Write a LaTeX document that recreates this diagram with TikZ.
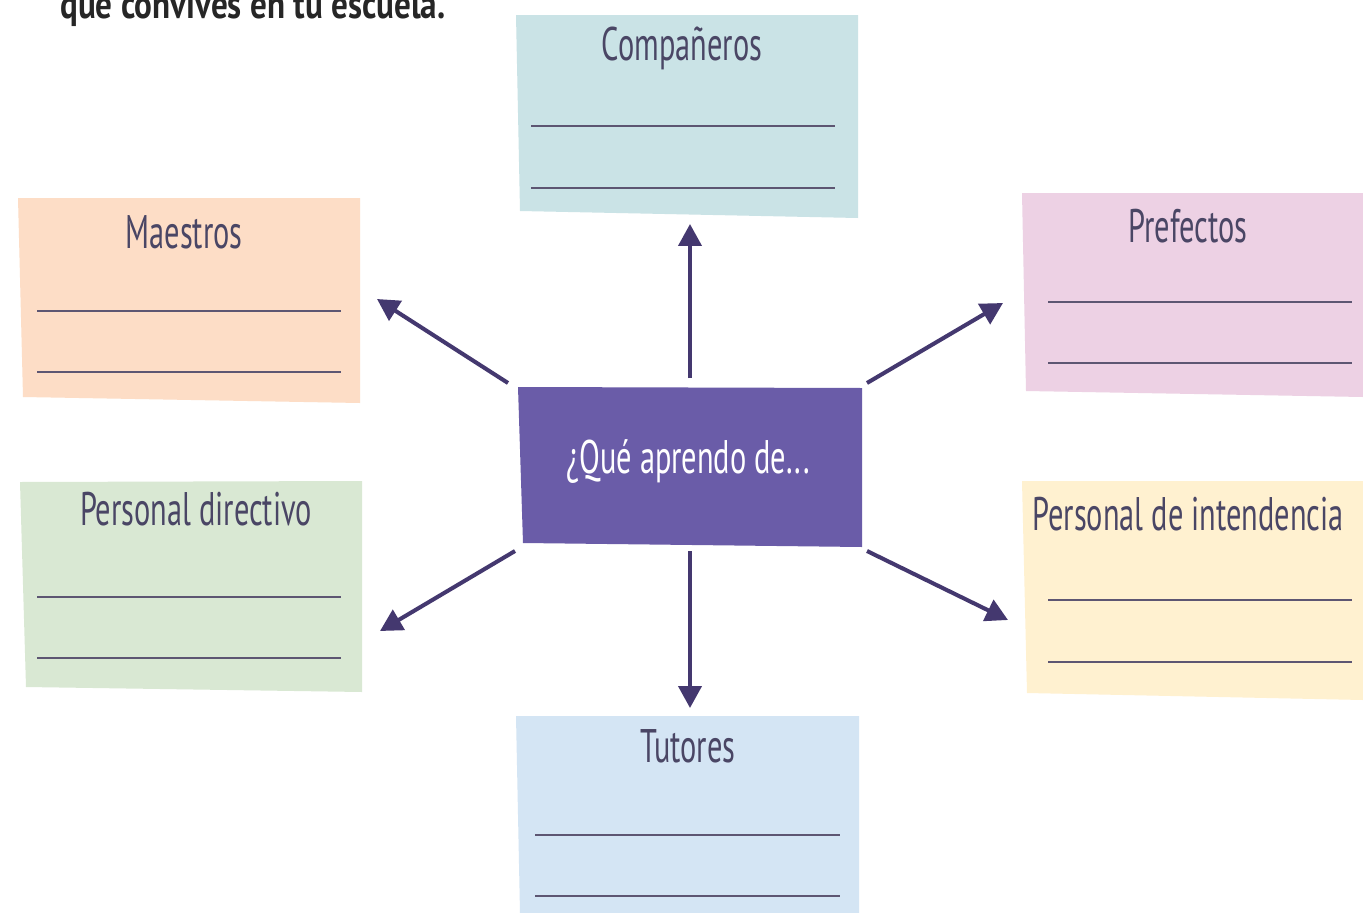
\documentclass[tikz,border=0pt]{standalone}
\usepackage{fontspec}
\setmainfont[FakeStretch=0.645]{PT Sans}
\newfontfamily\titlefont[FakeStretch=0.82]{PT Sans}
\usetikzlibrary{arrows.meta}
\definecolor{cteal}{HTML}{CAE3E6}
\definecolor{cpeach}{HTML}{FDDDC6}
\definecolor{cpink}{HTML}{EDD1E4}
\definecolor{cgreen}{HTML}{D9E8D3}
\definecolor{cyellow}{HTML}{FFF1D0}
\definecolor{cblue}{HTML}{D4E5F4}
\definecolor{cpurple}{HTML}{6A5CA8}
\definecolor{carrow}{HTML}{44386F}
\definecolor{ctext}{HTML}{4A4665}
\definecolor{cline}{HTML}{5D5672}
\tikzset{
  lbl/.style={anchor=base, text=ctext, inner sep=0pt, font=\fontsize{26.8}{30}\selectfont},
  sep/.style={draw=cline, line width=1.5pt},
  arr/.style={draw=carrow, line width=2.3pt, -{Triangle[length=0.44cm, width=0.46cm]}}
}
\begin{document}
\begin{tikzpicture}[x=0.02cm,y=-0.02cm]
\useasboundingbox (0,0) rectangle (1363,913);
\fill[white] (0,0) rectangle (1363,913);
% top text
\node[anchor=base west, inner sep=0pt, text=black!85, font=\titlefont\fontsize{23}{26}\selectfont\bfseries] (title) at (60,18) {que convives en tu escuela.};
% boxes
\fill[cteal]   (516,15) -- (858,15) -- (858,218) -- (520,211) -- cycle;
\fill[cpeach]  (18,198) -- (360,198) -- (360,403) -- (23,397) -- cycle;
\fill[cpink]   (1022,193) -- (1363,193) -- (1363,397) -- (1026,391) -- cycle;
\fill[cgreen]  (20,482) -- (362,481) -- (362,692) -- (26,687) -- cycle;
\fill[cyellow] (1022,481) -- (1363,481) -- (1363,700) -- (1027,693) -- cycle;
\fill[cblue]   (516,716) -- (859,716) -- (859,913) -- (520,913) -- cycle;
\fill[cpurple] (518,387) -- (862,388) -- (862,547) -- (523,543) -- cycle;
% labels
\node[lbl] (comp) at (682,60) {Compañeros};
\node[lbl] (maes) at (184,248) {Maestros};
\node[lbl] (pref) at (1188,242) {Prefectos};
\node[lbl] (dir)  at (196,525) {Personal directivo};
\node[lbl] (int)  at (1188,530) {Personal de intendencia};
\node[lbl] (tut)  at (688,762) {Tutores};
\node[lbl, text=white] (center) at (688,473) {¿Qué aprendo de...};
% writing lines
\draw[sep] (531,126) -- (835,126);
\draw[sep] (531,188) -- (835,188);
\draw[sep] (37,311) -- (341,311);
\draw[sep] (37,372) -- (341,372);
\draw[sep] (1048,302) -- (1352,302);
\draw[sep] (1048,363) -- (1352,363);
\draw[sep] (37,597) -- (341,597);
\draw[sep] (37,658) -- (341,658);
\draw[sep] (1048,600) -- (1352,600);
\draw[sep] (1048,662) -- (1352,662);
\draw[sep] (535,835) -- (840,835);
\draw[sep] (535,896) -- (840,896);
% arrow ends
\coordinate (aUs) at (690,378); \coordinate (aUe) at (690,224);
\coordinate (aULs) at (508,383); \coordinate (aULe) at (377,299);
\coordinate (aURs) at (867,383); \coordinate (aURe) at (1003,303);
\coordinate (aDLs) at (515,551); \coordinate (aDLe) at (380,631);
\coordinate (aDRs) at (867,551); \coordinate (aDRe) at (1008,620);
\coordinate (aDs) at (690,551); \coordinate (aDe) at (690,708);
\draw[arr] (aUs) -- (aUe);
\draw[arr] (aULs) -- (aULe);
\draw[arr] (aURs) -- (aURe);
\draw[arr] (aDLs) -- (aDLe);
\draw[arr] (aDRs) -- (aDRe);
\draw[arr] (aDs) -- (aDe);
\end{tikzpicture}
\end{document}
